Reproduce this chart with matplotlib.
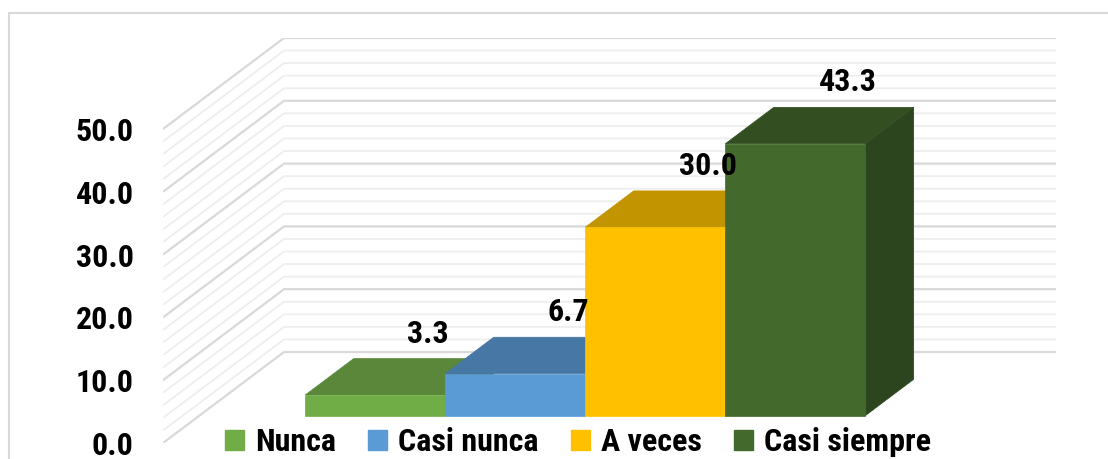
import numpy as np
import matplotlib
matplotlib.use("Agg")
import matplotlib.pyplot as plt
from matplotlib.patches import Polygon, Rectangle, Patch
from matplotlib import font_manager as fm

# ---- data ----
categories = ["Nunca", "Casi nunca", "A veces", "Casi siempre"]
values = [3.3, 6.7, 30.0, 43.3]
front_colors = ["#70AD47", "#5B9BD5", "#FFC000", "#44692D"]
top_colors = ["#5A873A", "#4777A4", "#C29400", "#334E21"]
side_colors = ["#4E7632", "#3E6890", "#A88000", "#2C451E"]
y_ticks = [0, 10, 20, 30, 40, 50]
y_tick_labels = ["0.0", "10.0", "20.0", "30.0", "40.0", "50.0"]

# ---- font ----
names = {f.name for f in fm.fontManager.ttflist}
fam = [f for f in ["Liberation Sans Narrow", "Roboto Condensed", "Arial Narrow", "Liberation Sans", "DejaVu Sans"] if f in names]
plt.rcParams["font.family"] = fam
FS = 23

W, H = 1108, 459
fig = plt.figure(figsize=(W / 100, H / 100), dpi=100)

# pseudo-3D geometry (front plane = axes data coordinates)
PX_CAT = 140.0
PX_VAL = 6.28
front_left_px, back_right_px = 163, 1056
zero_px, top_px = 443, 38
DX = 121 / PX_CAT        # depth offset in category units
DY = 91 / PX_VAL         # depth offset in value units
xmin = -1.257
xmax = xmin + (back_right_px - front_left_px) / PX_CAT
ymax = (zero_px - top_px) / PX_VAL

ax = fig.add_axes([front_left_px / W, (H - zero_px) / H,
                   (back_right_px - front_left_px) / W, (zero_px - top_px) / H])
ax.set_xlim(xmin, xmax)
ax.set_ylim(0, ymax)
for s in ax.spines.values():
    s.set_visible(False)
ax.set_xticks([])
ax.set_yticks(y_ticks)
ax.set_yticklabels(y_tick_labels, fontsize=FS, fontweight="bold")
ax.tick_params(axis="y", length=0, pad=21)
ax.patch.set_alpha(0)

# walls: gridlines on side wall and back wall
for v in np.arange(0, 50.01, 2):
    major = abs(v % 10) < 1e-9
    col = "#D9D9D9" if major else "#EEEEEE"
    lw = 1.6 if major else 1.3
    ax.plot([xmin, xmin + DX, xmax], [v, v + DY, v + DY], color=col, lw=lw,
            solid_capstyle="butt", zorder=1)

# bars
d0, d1 = 0.3, 0.7
for i, (v, fc, tc, sc) in enumerate(zip(values, front_colors, top_colors, side_colors)):
    xl, xr = i - 0.5, i + 0.5
    side = [(xr + d0 * DX, d0 * DY), (xr + d1 * DX, d1 * DY),
            (xr + d1 * DX, v + d1 * DY), (xr + d0 * DX, v + d0 * DY)]
    top = [(xl + d0 * DX, v + d0 * DY), (xr + d0 * DX, v + d0 * DY),
           (xr + d1 * DX, v + d1 * DY), (xl + d1 * DX, v + d1 * DY)]
    front = [(xl + d0 * DX, d0 * DY), (xr + d0 * DX, d0 * DY),
             (xr + d0 * DX, v + d0 * DY), (xl + d0 * DX, v + d0 * DY)]
    for poly, c in ((side, sc), (top, tc), (front, fc)):
        ax.add_patch(Polygon(poly, closed=True, facecolor=c, edgecolor=c,
                             lw=0.5, zorder=3 + i))
    ax.annotate(f"{v:.1f}", xy=(i + d1 * DX, v + d1 * DY), xytext=(3, 18),
                textcoords="offset points", ha="center", va="center",
                fontsize=FS, fontweight="bold", color="black", zorder=10)

# legend
handles = [Patch(facecolor=c, edgecolor=c) for c in front_colors]
fig.legend(handles, categories, loc="center", bbox_to_anchor=(578 / W, (H - 442) / H),
           ncol=4, frameon=False, prop={"size": FS, "weight": "bold"},
           handlelength=0.6, handleheight=0.6, handletextpad=0.35,
           columnspacing=1.0, borderpad=0)

# chart area border
fig.add_artist(Rectangle((9 / W, -0.1), 2, (H - 13) / H + 0.1, transform=fig.transFigure,
                         fill=False, edgecolor="#D9D9D9", lw=1.5))

fig.savefig("out.png", dpi=100)
